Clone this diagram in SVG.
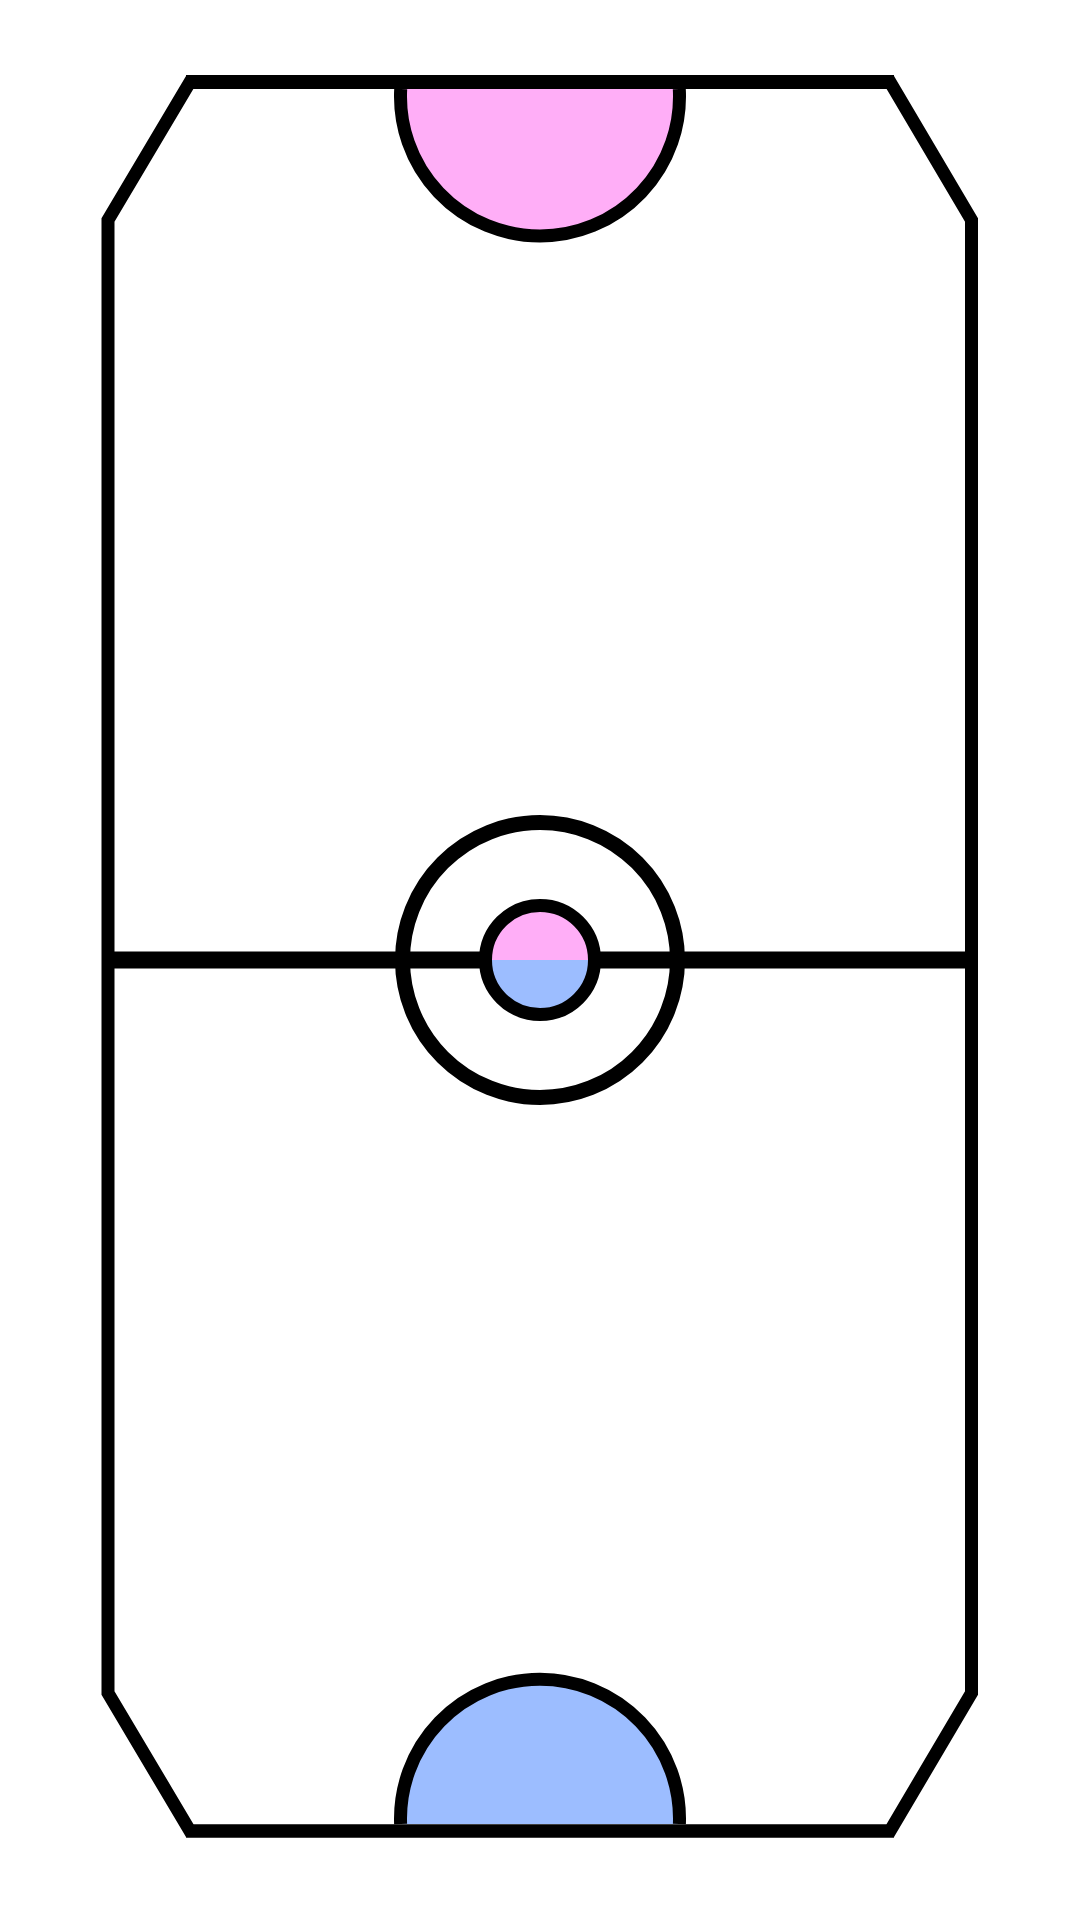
<svg xmlns="http://www.w3.org/2000/svg" width="1080" height="1920" viewBox="0 0 1080 1920">
  <style>
    .ln { fill: none; stroke: #000; }
    .pink { fill: #ffaef7; }
    .blue { fill: #9cbdff; }
  </style>
  <rect x="0" y="0" width="1080" height="1920" fill="#fff"/>
  <g id="table">
    <polygon class="ln" stroke-width="13" stroke-linejoin="miter" fill="#fff" points="190,82 890,82 971.5,220 971.5,1693 890,1831 190,1831 108,1693 108,220"/>
  </g>
  <g id="goal-top">
    <path class="pink" d="M 400.7 89 A 139.5 139.5 0 1 0 679.3 89 Z"/>
    <path class="ln" stroke-width="13" d="M 400.7 89 A 139.5 139.5 0 1 0 679.3 89"/>
  </g>
  <g id="goal-bottom">
    <path class="blue" d="M 400.6 1824 A 139.5 139.5 0 1 1 679.4 1824 Z"/>
    <path class="ln" stroke-width="13" d="M 400.6 1824 A 139.5 139.5 0 1 1 679.4 1824"/>
  </g>
  <g id="top-line">
    <line class="ln" stroke-width="14" x1="186" y1="82" x2="894" y2="82"/>
  </g>
  <g id="bottom-line">
    <line class="ln" stroke-width="13" x1="186" y1="1831" x2="894" y2="1831"/>
  </g>
  <g id="center-circle">
    <circle class="ln" stroke-width="15" cx="540" cy="960" r="137.5"/>
  </g>
  <g id="connectors">
    <line class="ln" stroke-width="17" x1="114" y1="960" x2="966" y2="960"/>
  </g>
  <g id="center-spot">
    <path class="pink" d="M 485.5 960 A 54.5 54.5 0 0 1 594.5 960 Z"/>
    <path class="blue" d="M 485.5 960 A 54.5 54.5 0 0 0 594.5 960 Z"/>
    <circle class="ln" stroke-width="13" cx="540" cy="960" r="54.5"/>
  </g>
</svg>
